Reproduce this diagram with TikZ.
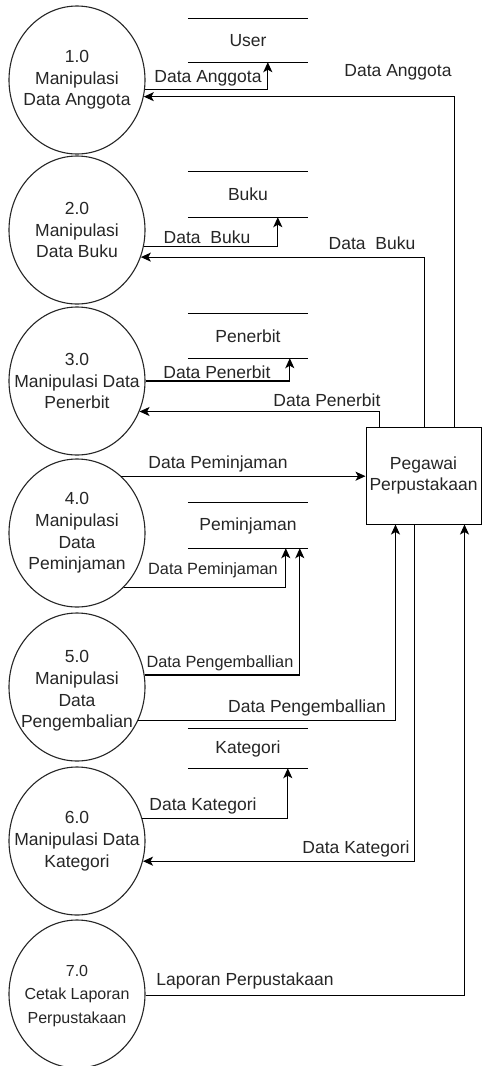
\documentclass[tikz,border=0pt]{standalone}
\usepackage{fontspec}
\setmainfont{Liberation Sans}
\usetikzlibrary{shapes.geometric,arrows.meta,calc}
\begin{document}
\begin{tikzpicture}[x=1pt,y=-1pt,
  proc/.style={ellipse,draw=black!85,line width=1.1pt,minimum width=136pt,minimum height=148pt,inner sep=0pt},
  ptext/.style={align=center,inner sep=0pt,text=black!85,font=\fontsize{17.5}{21.7}\selectfont},
  store/.style={minimum width=120pt,inner sep=0pt,text=black!85,font=\fontsize{17.5}{21}\selectfont},
  sline/.style={draw=black,line width=1.2pt},
  boxnode/.style={draw=black,line width=1pt,minimum width=115pt,minimum height=97pt,inner sep=0pt,align=center,text=black!85,font=\fontsize{17.5}{21.5}\selectfont},
  flow/.style={draw=black,line width=1.2pt,-{Stealth[length=10pt,width=9pt,inset=2.5pt]}},
  flab/.style={inner sep=0pt,text=black!85,font=\fontsize{17.5}{21}\selectfont},
  flabs/.style={inner sep=0pt,text=black!85,font=\fontsize{16.3}{20}\selectfont}
]
\useasboundingbox (0,0) rectangle (482,1066);
\fill[white] (0,0) rectangle (482,1066);

% processes
\node[proc] (c1) at (77,80) {};
\node[ptext] (t1) at (c1) {1.0\\Manipulasi\\Data Anggota};
\node[proc] (c2) at (77,230) {};
\node[ptext] (t2) at (c2) {2.0\\Manipulasi\\Data Buku};
\node[proc] (c3) at (77,381) {};
\node[ptext] (t3) at (c3) {3.0\\Manipulasi Data\\Penerbit};
\node[proc] (c4) at (77,533) {};
\node[ptext] (t4) at (c4) {4.0\\Manipulasi\\Data\\Peminjaman};
\node[proc] (c5) at (77,687) {};
\node[ptext] (t5) at ($(c5)+(0,4)$) {5.0\\Manipulasi\\Data\\Pengembalian};
\node[proc] (c6) at (77,841) {};
\node[ptext] (t6) at (c6) {6.0\\Manipulasi Data\\Kategori};
\node[proc] (c7) at (77,994) {};
\node[ptext,font=\fontsize{16}{23.5}\selectfont] (t7) at ($(c7)+(0,2)$) {7.0\\Cetak Laporan\\Perpustakaan};

% data stores
\node[store,minimum height=43pt] (su) at (248,40.5) {User};
\node[store,minimum height=45pt] (sb) at (248,194.5) {Buku};
\node[store,minimum height=44pt] (sp) at (248,336) {Penerbit};
\node[store,minimum height=45pt] (sm) at (248,525.5) {Peminjaman};
\node[store,minimum height=39pt] (sk) at (248,748.5) {Kategori};
\foreach \s in {su,sb,sp,sm,sk}{
  \draw[sline] (\s.north west) -- (\s.north east) (\s.south west) -- (\s.south east);
}

% external entity
\node[boxnode] (pg) at (423.5,475.5) {Pegawai\\Perpustakaan};

% flows
\draw[flow] (c1.-8.4) -| ([xshift=80pt]su.south west);
\node[flab] (l1a) at (208,78) {Data Anggota};
\draw[flow] ([xshift=89pt]pg.north west) |- (c1.-14.4);
\node[flab] (l1b) at (398,72) {Data Anggota};

\draw[flow] (c2.-14.4) -| ([xshift=90pt]sb.south west);
\node[flab] (l2a) at (207,237) {Data~~Buku};
\draw[flow] ([xshift=59pt]pg.north west) |- (c2.-23.1);
\node[flab] (l2b) at (372,243) {Data~~Buku};

\draw[flow] (c3.east) -| ([xshift=102pt]sp.south west);
\node[flab] (l3a) at (217,372) {Data Penerbit};
\draw[flow] ([xshift=14pt]pg.north west) |- (c3.-26.6);
\node[flab] (l3b) at (327,400) {Data Penerbit};

\draw[flow] (c4.52.7) -- (c4.52.7 -| pg.west);
\node[flab] (l4a) at (218,464) {Data Peminjaman};
\draw[flow] (c4.-49.3) -| ([xshift=98pt]sm.south west);
\node[flabs] (l4b) at (213,570) {Data Peminjaman};

\draw[flow] (c5.10.2) -| ([xshift=112pt]sm.south west);
\node[flabs] (l5a) at (220,663) {Data Pengemballian};
\draw[flow] (c5.-29.4) -| ([xshift=30pt]pg.south west);
\node[flab] (l5b) at (307,708) {Data Pengemballian};

\draw[flow] (c6.19.6) -| ([xshift=100pt]sk.south west);
\node[flab] (l6a) at (203,806) {Data Kategori};
\draw[flow] ([xshift=49pt]pg.south west) |- (c6.-17.9);
\node[flab] (l6b) at (356,849) {Data Kategori};

\draw[flow] (c7.-1.5) -| ([xshift=99pt]pg.south west);
\node[flab] (l7) at (245,981) {Laporan Perpustakaan};
\end{tikzpicture}
\end{document}
